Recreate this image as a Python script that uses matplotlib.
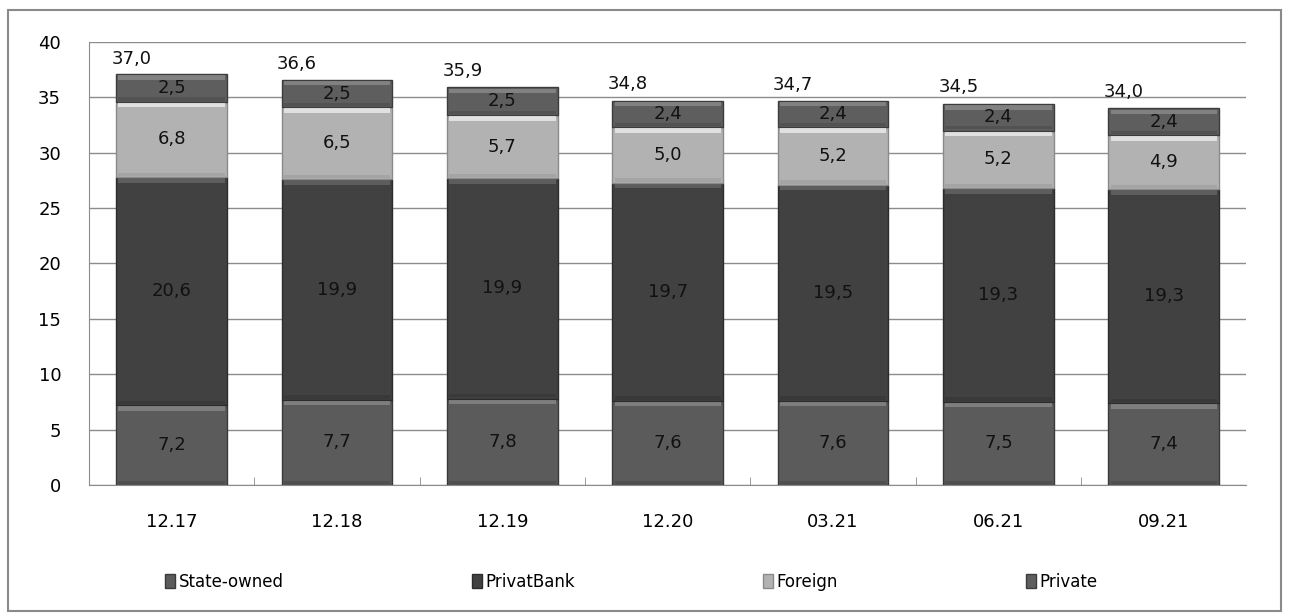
import numpy as np
import matplotlib.pyplot as plt
from matplotlib.patches import Rectangle

dates = ['12.17', '12.18', '12.19', '12.20', '03.21', '06.21', '09.21']
state_owned = [7.2, 7.7, 7.8, 7.6, 7.6, 7.5, 7.4]
privatbank = [20.6, 19.9, 19.9, 19.7, 19.5, 19.3, 19.3]
foreign = [6.8, 6.5, 5.7, 5.0, 5.2, 5.2, 4.9]
private = [2.5, 2.5, 2.5, 2.4, 2.4, 2.4, 2.4]
totals = [37.0, 36.6, 35.9, 34.8, 34.7, 34.5, 34.0]

series = [('State-owned', state_owned, '#5b5b5b', '#8e8e8e', '#3a3a3a'),
          ('PrivatBank', privatbank, '#414141', '#6a6a6a', '#2c2c2c'),
          ('Foreign', foreign, '#b2b2b2', '#f4f4f4', '#8a8a8a'),
          ('Private', private, '#5e5e5e', '#909090', '#3c3c3c')]

def fmt(v):
    return ('%.1f' % v).replace('.', ',')

fig = plt.figure(figsize=(12.89, 6.15), dpi=100)
fig.patches.append(Rectangle((0.006, 0.006), 0.988, 0.978, transform=fig.transFigure,
                             fill=False, edgecolor='#8a8a8a', linewidth=1.5))
ax = fig.add_axes([0.069, 0.2114, 0.898, 0.7203])

x = np.arange(len(dates))
w = 0.67
bottom = np.zeros(len(dates))
handles = []
for name, vals, col, light, dark in series:
    vals = np.array(vals)
    b = ax.bar(x, vals, w, bottom=bottom, color=col, edgecolor=dark, linewidth=1.0,
               zorder=3, label=name)
    # bevel: lighter strip on top, softer shade at the bottom
    ax.bar(x, np.full(len(x), 0.4), w * 0.96, bottom=bottom + vals - 0.5,
           color=light, linewidth=0, zorder=4, alpha=0.7)
    ax.bar(x, np.full(len(x), 0.3), w * 0.96, bottom=bottom + 0.1,
           color=dark, linewidth=0, zorder=4, alpha=0.35)
    for xi, bi, v in zip(x, bottom, vals):
        ax.text(xi, bi + v / 2, fmt(v), ha='center', va='center', fontsize=13,
                color='#111111', zorder=5)
    handles.append(b)
    bottom = bottom + vals

for xi, t in zip(x, totals):
    ax.annotate(fmt(t), (xi, t), xytext=(-40, 16), textcoords='offset pixels',
                ha='center', va='center', fontsize=13, color='#111111')

ax.set_xlim(-0.5, len(dates) - 0.5)
ax.set_ylim(0, 40)
ax.set_yticks(range(0, 41, 5))
ax.yaxis.grid(True, color='#8c8c8c', linewidth=1.0, zorder=0)
ax.set_axisbelow(True)
ax.set_xticks(x)
ax.set_xticklabels(dates)
ax.set_xticks(np.arange(0.5, len(dates) - 0.5, 1), minor=True)
ax.tick_params(axis='x', which='major', length=0, pad=20, labelsize=13)
ax.tick_params(axis='x', which='minor', direction='in', length=6, color='#8c8c8c')
ax.tick_params(axis='y', length=0, pad=20, labelsize=13)
for s in ['top', 'right']:
    ax.spines[s].set_visible(False)
for s in ['left', 'bottom']:
    ax.spines[s].set_color('#8c8c8c')

fig.legend(handles=handles, loc='center', bbox_to_anchor=(0.49, 0.054), ncol=4,
           frameon=False, fontsize=12, handlelength=0.6, handleheight=0.9,
           handletextpad=0.2, columnspacing=11.3)

plt.savefig('out.png', dpi=100)
